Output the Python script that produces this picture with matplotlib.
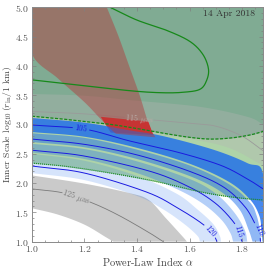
import numpy as np
import matplotlib
matplotlib.use("Agg")
import matplotlib.pyplot as plt

plt.rcParams.update({
    "font.family": "cmr10",
    "mathtext.fontset": "cm",
    "axes.formatter.use_mathtext": True,
    "font.size": 7,
})

# ---------------- data (alpha, log10 r_in) ----------------
date_label = "14 Apr 2018"
x_ticks = [1.0, 1.2, 1.4, 1.6, 1.8]
y_ticks = [1.0, 1.5, 2.0, 2.5, 3.0, 3.5, 4.0, 4.5, 5.0]

# green 2-sigma (dotted) and 1-sigma (dashed) boundaries
dotted_a = [1.0, 1.1, 1.2, 1.3, 1.4, 1.5, 1.6, 1.7, 1.8, 1.88]
dotted_y = [2.34, 2.30, 2.24, 2.17, 2.09, 2.00, 1.89, 1.80, 1.74, 1.71]
dashed_a = [1.0, 1.1, 1.2, 1.3, 1.4, 1.5, 1.6, 1.68, 1.76, 1.83, 1.88]
dashed_y = [3.14, 3.10, 3.05, 3.00, 2.93, 2.85, 2.78, 2.75, 2.77, 2.82, 2.88]
# green solid contour
solid_a = [1.297, 1.40, 1.51, 1.60, 1.65, 1.672, 1.665, 1.64, 1.58, 1.50, 1.385, 1.2, 1.1, 1.0]
solid_y = [5.0, 4.78, 4.61, 4.42, 4.20, 3.95, 3.75, 3.60, 3.55, 3.54, 3.57, 3.66, 3.71, 3.76]

# blue contours
blue_levels = ["105", "110", "115", "120"]
line105_a = [1.0, 1.2, 1.37, 1.56, 1.72, 1.82, 1.88]
line105_y = [2.99, 2.92, 2.72, 2.52, 2.30, 2.07, 1.90]
line110_a = [1.0, 1.2, 1.4, 1.6, 1.73, 1.81, 1.85, 1.866, 1.87]
line110_y = [2.75, 2.66, 2.48, 2.20, 1.93, 1.60, 1.30, 1.15, 1.0]
line115_a = [1.0, 1.2, 1.45, 1.6, 1.7, 1.77, 1.79, 1.80]
line115_y = [2.56, 2.46, 2.20, 1.93, 1.65, 1.32, 1.12, 1.0]
line120_a = [1.0, 1.2, 1.44, 1.56, 1.65, 1.69, 1.705]
line120_y = [2.29, 2.17, 1.84, 1.56, 1.30, 1.12, 1.0]
blue_label_pos = [(1.19, 2.93), (1.866, 1.2), (1.786, 1.17), (1.678, 1.17)]

# blue bands (upper edge / lower edge)
b105_top_a = [1.0, 1.2, 1.37, 1.5, 1.69, 1.82, 1.88, 1.88]
b105_top_y = [3.11, 3.03, 2.90, 2.80, 2.57, 2.34, 2.15, 1.0]
b105_bot_a = [1.0, 1.2, 1.4, 1.6, 1.75, 1.83, 1.865, 1.874, 1.878]
b105_bot_y = [2.87, 2.79, 2.60, 2.33, 2.02, 1.72, 1.45, 1.20, 1.0]
b110_top_a = [1.0, 1.2, 1.4, 1.6, 1.75, 1.83, 1.855, 1.868, 1.873]
b110_top_y = [2.85, 2.77, 2.57, 2.30, 1.98, 1.67, 1.45, 1.20, 1.0]
b110_bot_a = [1.0, 1.2, 1.4, 1.6, 1.72, 1.79, 1.825, 1.84]
b110_bot_y = [2.70, 2.61, 2.41, 2.12, 1.85, 1.55, 1.20, 1.0]
b115_top_a = [1.0, 1.2, 1.4, 1.6, 1.7, 1.77, 1.81, 1.82]
b115_top_y = [2.67, 2.58, 2.37, 2.07, 1.82, 1.50, 1.20, 1.0]
b115_bot_a = [1.0, 1.2, 1.4, 1.55, 1.65, 1.72, 1.755, 1.766]
b115_bot_y = [2.52, 2.41, 2.17, 1.90, 1.65, 1.38, 1.15, 1.0]
b120_top_a = [1.0, 1.2, 1.4, 1.55, 1.63, 1.69, 1.715, 1.72]
b120_top_y = [2.50, 2.38, 2.12, 1.82, 1.55, 1.30, 1.10, 1.0]
b120_bot_a = [1.0, 1.2, 1.4, 1.5, 1.58, 1.63, 1.64]
b120_bot_y = [2.17, 2.05, 1.78, 1.55, 1.30, 1.10, 1.0]

# gray size bands
gray_label_lo = r"125 $\mu$as"
grayL_top_a = [1.0, 1.2, 1.37, 1.445, 1.51, 1.575, 1.59]
grayL_top_y = [2.13, 1.99, 1.83, 1.71, 1.40, 1.08, 1.0]
grayL_bot_a = [1.0, 1.1, 1.2, 1.28, 1.31]
grayL_bot_y = [1.57, 1.46, 1.29, 1.08, 1.0]
grayL_line_a = [1.0, 1.12, 1.23, 1.33, 1.44, 1.5]
grayL_line_y = [1.90, 1.83, 1.66, 1.45, 1.17, 1.0]
gray_label_hi = r"115 $\mu$as"
grayU_top_a = [1.0, 1.2, 1.385, 1.64, 1.82, 1.88]
grayU_top_y = [3.52, 3.49, 3.41, 3.30, 3.13, 3.00]
grayU_bot_a = [1.0, 1.2, 1.4, 1.6, 1.75, 1.88]
grayU_bot_y = [2.95, 2.92, 2.86, 2.75, 2.60, 2.30]
grayU_line_a = [1.0, 1.2, 1.4, 1.6, 1.7, 1.8, 1.88]
grayU_line_y = [3.22, 3.18, 3.10, 3.02, 2.97, 2.80, 2.55]

# red band and bright red patch
red_left_a = [1.0, 1.0, 1.1, 1.2, 1.26, 1.30, 1.32]
red_left_y = [5.0, 4.21, 3.78, 3.38, 3.10, 2.92, 2.84]
red_right_a = [1.285, 1.33, 1.37, 1.41, 1.445, 1.47]
red_right_y = [5.0, 4.50, 4.00, 3.50, 3.00, 2.78]
redpatch_a = [1.262, 1.443, 1.462, 1.30]
redpatch_y = [3.13, 3.05, 2.82, 2.86]


# ---------------- helpers ----------------
def smooth(a, y, n=30):
    P = np.column_stack([a, y]).astype(float)
    if len(P) < 3:
        return P
    Pe = np.vstack([2 * P[0] - P[1], P, 2 * P[-1] - P[-2]])
    out = []
    t = np.linspace(0, 1, n, endpoint=False)[:, None]
    for i in range(1, len(Pe) - 2):
        p0, p1, p2, p3 = Pe[i - 1:i + 3]
        out.append(0.5 * ((2 * p1) + (-p0 + p2) * t + (2 * p0 - 5 * p1 + 4 * p2 - p3) * t ** 2
                          + (-p0 + 3 * p1 - 3 * p2 + p3) * t ** 3))
    out.append(P[-1:])
    return np.vstack(out)


def band(ax, ta, ty, ba, by, color, alpha, z):
    top = smooth(ta, ty)
    bot = smooth(ba, by)
    poly = np.vstack([top, bot[::-1]])
    ax.fill(poly[:, 0], poly[:, 1], color=color, alpha=alpha, lw=0, zorder=z)


def curve(ax, a, y, color, lw, ls="-", text=None, at=None, fs=5.5, tcolor=None,
          half=8.0, z=3, dashes=None):
    pts = smooth(a, y)
    if text is not None:
        disp = ax.transData.transform(pts)
        c = ax.transData.transform([at])[0]
        i = int(np.argmin(np.hypot(*(disp - c).T)))
        j0, j1 = max(i - 4, 0), min(i + 4, len(pts) - 1)
        d = disp[j1] - disp[j0]
        ang = np.degrees(np.arctan2(d[1], d[0]))
        if ang > 90:
            ang -= 180
        if ang < -90:
            ang += 180
        mask = np.hypot(*(disp - disp[i]).T) < half
        lx, ly = pts[i]
        pts = pts.copy()
        pts[mask] = np.nan
        ax.text(lx, ly, text, rotation=ang, rotation_mode="anchor", ha="center",
                va="center", fontsize=fs, color=tcolor or color, zorder=z + 0.1)
    kw = dict(color=color, lw=lw, zorder=z, solid_capstyle="butt")
    line, = ax.plot(pts[:, 0], pts[:, 1], ls=ls, **kw)
    if dashes is not None:
        line.set_dashes(dashes)
    return line


# ---------------- figure ----------------
fig = plt.figure(figsize=(2.66, 2.67), dpi=100)
ax = fig.add_axes([0.120, 0.095, 0.869, 0.878])
ax.set_xlim(1.0, 1.88)
ax.set_ylim(1.0, 5.0)

# green credible regions
d2 = smooth(dotted_a, dotted_y)
ax.fill_between(d2[:, 0], d2[:, 1], 5.0, color="#aed3a8", lw=0, zorder=1)
d1 = smooth(dashed_a, dashed_y)
ax.fill_between(d1[:, 0], d1[:, 1], 5.0, color="#80ab93", lw=0, zorder=1.1)

# gray bands
band(ax, grayU_top_a, grayU_top_y, grayU_bot_a, grayU_bot_y, "#b4b4b4", 0.35, 1.2)
band(ax, grayL_top_a, grayL_top_y, grayL_bot_a, grayL_bot_y, "#cacaca", 1.0, 1.2)

# bright red patch
ax.fill(redpatch_a, redpatch_y, color="#d8302e", lw=0, zorder=1.3)

# blue bands
bc = (30 / 255, 110 / 255, 235 / 255)
band(ax, b120_top_a, b120_top_y, b120_bot_a, b120_bot_y, bc, 0.18, 1.4)
band(ax, b115_top_a, b115_top_y, b115_bot_a, b115_bot_y, bc, 0.33, 1.4)
band(ax, b110_top_a, b110_top_y, b110_bot_a, b110_bot_y, bc, 0.49, 1.4)
band(ax, b105_top_a, b105_top_y, b105_bot_a, b105_bot_y, bc, 0.82, 1.4)

# red band (translucent)
rl = smooth(red_left_a, red_left_y)
rr = smooth(red_right_a, red_right_y)
rpoly = np.vstack([rl, rr[::-1]])
ax.fill(rpoly[:, 0], rpoly[:, 1], color="#b23a3a", alpha=0.47, lw=0, zorder=1.5)

# gray contour lines
curve(ax, grayL_line_a, grayL_line_y, "#7a7a7a", 0.6, text=gray_label_lo,
      at=(1.17, 1.76), fs=6, half=14, z=2)
curve(ax, grayU_line_a, grayU_line_y, "#9a9a9a", 0.6, text=gray_label_hi,
      at=(1.41, 3.10), fs=6, tcolor="#b9a8a4", half=14, z=1.45)

# blue contour lines
blue_lines = [(line105_a, line105_y), (line110_a, line110_y),
              (line115_a, line115_y), (line120_a, line120_y)]
for (la, ly), lab, pos in zip(blue_lines, blue_levels, blue_label_pos):
    curve(ax, la, ly, "#1a1ae0", 0.7, text=lab, at=pos, fs=6, half=8, z=2.1)

# green lines
gcol = "#17891a"
curve(ax, solid_a, solid_y, gcol, 0.9, z=2.2)
curve(ax, dashed_a, dashed_y, gcol, 0.9, z=2.2, dashes=(2.5, 1.2))
curve(ax, dotted_a, dotted_y, gcol, 0.9, z=2.2, dashes=(0.8, 0.8))

ax.text(0.965, 0.972, date_label, transform=ax.transAxes, ha="right", va="center",
        fontsize=7, color="#333333", zorder=5)

# axes styling
ax.set_xticks(x_ticks)
ax.set_yticks(y_ticks)
ax.set_xticks(np.arange(1.0, 1.881, 0.05), minor=True)
ax.set_yticks(np.arange(1.0, 5.001, 0.1), minor=True)
ax.tick_params(which="both", direction="in", top=True, right=True, color="#808080",
               width=0.5, labelsize=7, labelcolor="#555555", pad=2)
ax.tick_params(which="major", length=3)
ax.tick_params(which="minor", length=1.5)
for s in ax.spines.values():
    s.set_color("#8a8a8a")
    s.set_linewidth(0.7)
    s.set_zorder(6)
ax.set_xlabel(r"Power-Law Index $\alpha$", fontsize=7.5, color="#444444", labelpad=1)
ax.set_ylabel(r"Inner Scale $\log_{10}(r_{\rm in}/1\ {\rm km})$", fontsize=7,
              color="#444444", labelpad=1)

fig.savefig("out.png", dpi=100)
